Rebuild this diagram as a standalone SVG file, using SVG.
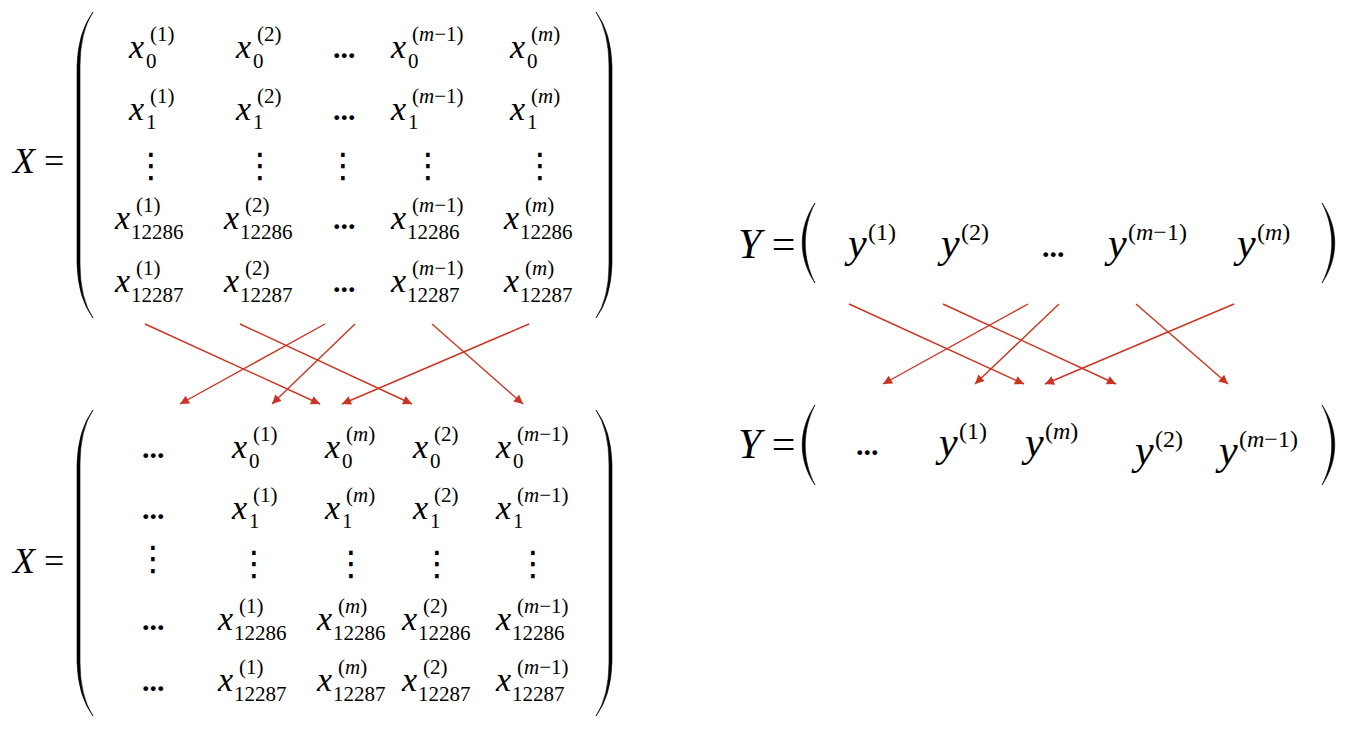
<svg xmlns="http://www.w3.org/2000/svg" width="1355" height="730" viewBox="0 0 1355 730">
<defs>
<style>
.v{font-family:"Liberation Serif",serif;font-style:italic;font-size:34px;fill:#000}
.s{font-family:"Liberation Serif",serif;font-size:21px;fill:#000}
.big{font-family:"Liberation Serif",serif;font-size:36px;fill:#000}
.bigy{font-family:"Liberation Serif",serif;font-size:42px;fill:#000}
.yv{font-family:"Liberation Serif",serif;font-style:italic;font-size:42px;fill:#000}
.ys{font-family:"Liberation Serif",serif;font-size:24px;fill:#000}
.el{font-family:"Liberation Serif",serif;font-weight:bold;font-size:30px;fill:#000}
.vd{font-family:"DejaVu Sans",sans-serif;font-size:34px;fill:#000;text-anchor:middle}
.it{font-style:italic}
.par{fill:#000;stroke:#000;stroke-width:0.6}
.arr{stroke:#CC3322;stroke-width:1.4;fill:none;marker-end:url(#ah)}
</style>
<marker id="ah" viewBox="0 0 10 10" refX="10" refY="5" markerWidth="11" markerHeight="9" orient="auto" markerUnits="userSpaceOnUse">
<path d="M0,0 L10,5 L0,10 z" fill="#CC3322"/>
</marker>
</defs>

<g id="matrix-x-top">
<text class="big" x="13" y="173"><tspan class="it">X</tspan> =</text>
<path class="par" d="M93,12 Q78,32 77,66 L77,264 Q78,298 93,318 Q80,298 80,264 L80,66 Q80,32 93,12 Z"/>
<path class="par" d="M596,12 Q611,32 612,66 L612,264 Q611,298 596,318 Q609,298 609,264 L609,66 Q609,32 596,12 Z"/>
<!-- row 0 -->
<text class="v" x="129" y="58">x</text><text class="s" x="146" y="68">0</text><text class="s" x="150" y="41">(1)</text>
<text class="v" x="236" y="58">x</text><text class="s" x="253" y="68">0</text><text class="s" x="257" y="41">(2)</text>
<text class="el" x="333" y="58">...</text>
<text class="v" x="391" y="58">x</text><text class="s" x="408" y="68">0</text><text class="s" x="412" y="41">(<tspan class="it">m</tspan>−1)</text>
<text class="v" x="510" y="58">x</text><text class="s" x="527" y="68">0</text><text class="s" x="531" y="41">(<tspan class="it">m</tspan>)</text>
<!-- row 1 -->
<text class="v" x="129" y="120">x</text><text class="s" x="146" y="129">1</text><text class="s" x="150" y="103">(1)</text>
<text class="v" x="236" y="120">x</text><text class="s" x="253" y="129">1</text><text class="s" x="257" y="103">(2)</text>
<text class="el" x="333" y="120">...</text>
<text class="v" x="391" y="120">x</text><text class="s" x="408" y="129">1</text><text class="s" x="412" y="103">(<tspan class="it">m</tspan>−1)</text>
<text class="v" x="510" y="120">x</text><text class="s" x="527" y="129">1</text><text class="s" x="531" y="103">(<tspan class="it">m</tspan>)</text>
<!-- row 2 -->
<text class="vd" x="151" y="177">⋮</text>
<text class="vd" x="260" y="177">⋮</text>
<text class="vd" x="343" y="177">⋮</text>
<text class="vd" x="428" y="177">⋮</text>
<text class="vd" x="540" y="177">⋮</text>
<!-- row 3 -->
<text class="v" x="115" y="229">x</text><text class="s" x="131" y="239">12286</text><text class="s" x="136" y="212">(1)</text>
<text class="v" x="224" y="229">x</text><text class="s" x="240" y="239">12286</text><text class="s" x="245" y="212">(2)</text>
<text class="el" x="333" y="229">...</text>
<text class="v" x="391" y="229">x</text><text class="s" x="407" y="239">12286</text><text class="s" x="412" y="212">(<tspan class="it">m</tspan>−1)</text>
<text class="v" x="504" y="229">x</text><text class="s" x="520" y="239">12286</text><text class="s" x="525" y="212">(<tspan class="it">m</tspan>)</text>
<!-- row 4 -->
<text class="v" x="115" y="292">x</text><text class="s" x="131" y="302">12287</text><text class="s" x="136" y="275">(1)</text>
<text class="v" x="224" y="292">x</text><text class="s" x="240" y="302">12287</text><text class="s" x="245" y="275">(2)</text>
<text class="el" x="333" y="292">...</text>
<text class="v" x="391" y="292">x</text><text class="s" x="407" y="302">12287</text><text class="s" x="412" y="275">(<tspan class="it">m</tspan>−1)</text>
<text class="v" x="504" y="292">x</text><text class="s" x="520" y="302">12287</text><text class="s" x="525" y="275">(<tspan class="it">m</tspan>)</text>
</g>

<g id="matrix-x-bottom">
<text class="big" x="13" y="573"><tspan class="it">X</tspan> =</text>
<path class="par" d="M93,410 Q78,430 77,464 L77,662 Q78,696 93,716 Q80,696 80,662 L80,464 Q80,430 93,410 Z"/>
<path class="par" d="M596,410 Q611,430 612,464 L612,662 Q611,696 596,716 Q609,696 609,662 L609,464 Q609,430 596,410 Z"/>
<!-- row 0 -->
<text class="el" x="142" y="458">...</text>
<text class="v" x="232" y="458">x</text><text class="s" x="249" y="468">0</text><text class="s" x="253" y="441">(1)</text>
<text class="v" x="325" y="458">x</text><text class="s" x="342" y="468">0</text><text class="s" x="346" y="441">(<tspan class="it">m</tspan>)</text>
<text class="v" x="413" y="458">x</text><text class="s" x="430" y="468">0</text><text class="s" x="434" y="441">(2)</text>
<text class="v" x="496" y="458">x</text><text class="s" x="513" y="468">0</text><text class="s" x="517" y="441">(<tspan class="it">m</tspan>−1)</text>
<!-- row 1 -->
<text class="el" x="142" y="519">...</text>
<text class="v" x="232" y="519">x</text><text class="s" x="249" y="528">1</text><text class="s" x="253" y="502">(1)</text>
<text class="v" x="325" y="519">x</text><text class="s" x="342" y="528">1</text><text class="s" x="346" y="502">(<tspan class="it">m</tspan>)</text>
<text class="v" x="413" y="519">x</text><text class="s" x="430" y="528">1</text><text class="s" x="434" y="502">(2)</text>
<text class="v" x="496" y="519">x</text><text class="s" x="513" y="528">1</text><text class="s" x="517" y="502">(<tspan class="it">m</tspan>−1)</text>
<!-- row 2 -->
<text class="vd" x="153" y="570">⋮</text>
<text class="vd" x="254" y="575">⋮</text>
<text class="vd" x="351" y="575">⋮</text>
<text class="vd" x="437" y="575">⋮</text>
<text class="vd" x="533" y="575">⋮</text>
<!-- row 3 -->
<text class="el" x="142" y="630">...</text>
<text class="v" x="218" y="630">x</text><text class="s" x="234" y="640">12286</text><text class="s" x="239" y="613">(1)</text>
<text class="v" x="317" y="630">x</text><text class="s" x="333" y="640">12286</text><text class="s" x="338" y="613">(<tspan class="it">m</tspan>)</text>
<text class="v" x="402" y="630">x</text><text class="s" x="418" y="640">12286</text><text class="s" x="423" y="613">(2)</text>
<text class="v" x="496" y="630">x</text><text class="s" x="512" y="640">12286</text><text class="s" x="517" y="613">(<tspan class="it">m</tspan>−1)</text>
<!-- row 4 -->
<text class="el" x="142" y="691">...</text>
<text class="v" x="218" y="691">x</text><text class="s" x="234" y="701">12287</text><text class="s" x="239" y="674">(1)</text>
<text class="v" x="317" y="691">x</text><text class="s" x="333" y="701">12287</text><text class="s" x="338" y="674">(<tspan class="it">m</tspan>)</text>
<text class="v" x="402" y="691">x</text><text class="s" x="418" y="701">12287</text><text class="s" x="423" y="674">(2)</text>
<text class="v" x="496" y="691">x</text><text class="s" x="512" y="701">12287</text><text class="s" x="517" y="674">(<tspan class="it">m</tspan>−1)</text>
</g>

<g id="vector-y-top">
<text class="bigy" x="738" y="258"><tspan class="it">Y</tspan> =</text>
<path class="par" d="M815,203 C798,228 798,258 815,283 C802,258 802,228 815,203 Z"/>
<path class="par" d="M1322,203 C1339,228 1339,258 1322,283 C1335,258 1335,228 1322,203 Z"/>
<text class="yv" x="848" y="257">y</text><text class="ys" x="868" y="240">(1)</text>
<text class="yv" x="941" y="257">y</text><text class="ys" x="961" y="240">(2)</text>
<text class="el" x="1042" y="257">...</text>
<text class="yv" x="1108" y="257">y</text><text class="ys" x="1128" y="240">(<tspan class="it">m</tspan>−1)</text>
<text class="yv" x="1237" y="257">y</text><text class="ys" x="1257" y="240">(<tspan class="it">m</tspan>)</text>
</g>

<g id="vector-y-bottom">
<text class="bigy" x="738" y="458"><tspan class="it">Y</tspan> =</text>
<path class="par" d="M815,405 C798,430 798,460 815,485 C802,460 802,430 815,405 Z"/>
<path class="par" d="M1322,405 C1339,430 1339,460 1322,485 C1335,460 1335,430 1322,405 Z"/>
<text class="el" x="856" y="455">...</text>
<text class="yv" x="939" y="456">y</text><text class="ys" x="959" y="439">(1)</text>
<text class="yv" x="1025" y="456">y</text><text class="ys" x="1045" y="439">(<tspan class="it">m</tspan>)</text>
<text class="yv" x="1135" y="464">y</text><text class="ys" x="1155" y="447">(2)</text>
<text class="yv" x="1219" y="464">y</text><text class="ys" x="1239" y="447">(<tspan class="it">m</tspan>−1)</text>
</g>

<g id="connectors">
<line class="arr" x1="145" y1="324" x2="320" y2="404"/>
<line class="arr" x1="240" y1="324" x2="412" y2="404"/>
<line class="arr" x1="325" y1="324" x2="180" y2="404"/>
<line class="arr" x1="355" y1="324" x2="272" y2="404"/>
<line class="arr" x1="432" y1="324" x2="523" y2="404"/>
<line class="arr" x1="529" y1="324" x2="342" y2="404"/>
<line class="arr" x1="849" y1="304" x2="1024" y2="384"/>
<line class="arr" x1="943" y1="304" x2="1116" y2="384"/>
<line class="arr" x1="1028" y1="304" x2="883" y2="384"/>
<line class="arr" x1="1059" y1="304" x2="975" y2="384"/>
<line class="arr" x1="1136" y1="304" x2="1228" y2="384"/>
<line class="arr" x1="1234" y1="304" x2="1045" y2="384"/>
</g>
</svg>
